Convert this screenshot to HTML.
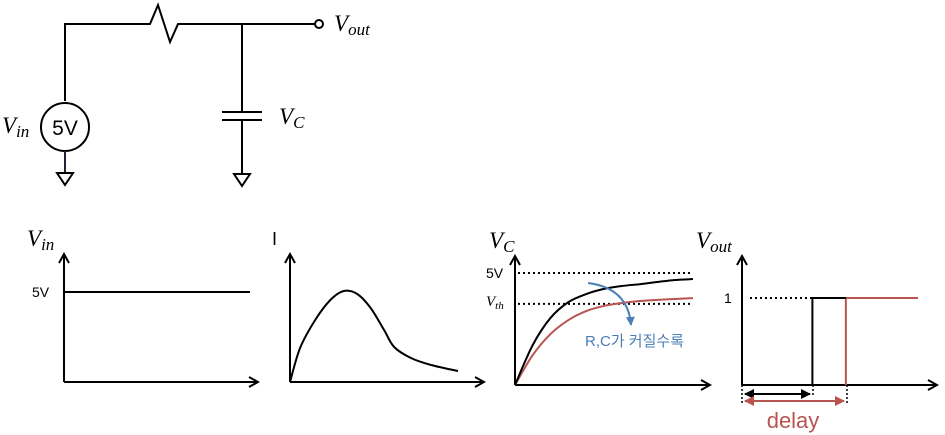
<!DOCTYPE html>
<html><head><meta charset="utf-8"><style>
html,body{margin:0;padding:0;background:#fff;}
svg{display:block;}
.m{font-family:"Liberation Serif",serif;font-style:italic;}
.s{font-family:"Liberation Sans","Noto Sans CJK KR",sans-serif;}
</style></head><body>
<svg id="root" width="945" height="435" viewBox="0 0 945 435">
<defs>
<marker id="ah" viewBox="0 0 12 12" refX="10" refY="6" markerWidth="12" markerHeight="12" markerUnits="userSpaceOnUse" orient="auto"><path d="M1,1 L10,6 L1,11" fill="none" stroke="#000" stroke-width="2"/></marker>
<marker id="bh" viewBox="0 0 10 10" refX="9" refY="5" markerWidth="10" markerHeight="10" markerUnits="userSpaceOnUse" orient="auto-start-reverse"><path d="M0,0 L10,5 L0,10z" fill="#000"/></marker>
<marker id="rh" viewBox="0 0 10 10" refX="9" refY="5" markerWidth="10" markerHeight="10" markerUnits="userSpaceOnUse" orient="auto-start-reverse"><path d="M0,0 L10,5 L0,10z" fill="#b85450"/></marker>
<marker id="uh" viewBox="0 0 10 10" refX="9" refY="5" markerWidth="9" markerHeight="9" markerUnits="userSpaceOnUse" orient="auto"><path d="M0,0 L10,5 L0,10z" fill="#4a7fb5"/></marker>
</defs>
<g fill="none" stroke="#000" stroke-width="2">
<path d="M65,101 V24 H150 L158,5 L170,42 L178,24 H315"/>
<circle cx="319" cy="24" r="4"/>
<circle cx="65" cy="127" r="24"/>
<path d="M65,151 V172" stroke="#223"/>
<path d="M57,173 H73 L65,185Z"/>
<path d="M242,24 V112"/>
<path d="M222,112 H262 M222,120 H262"/>
<path d="M242,120 V173"/>
<path d="M234,174 H250 L242,186Z"/>
</g>
<text class="s" x="65" y="135" font-size="21" text-anchor="middle">5V</text>
<text class="m" x="2" y="133" font-size="23">V<tspan font-size="17" dy="4">in</tspan></text>
<text class="m" x="334" y="31" font-size="23">V<tspan font-size="17" dy="4">out</tspan></text>
<text class="m" x="279" y="124" font-size="23">V<tspan font-size="17" dy="4">C</tspan></text>

<g fill="none" stroke="#000" stroke-width="2">
<path d="M64,382 V254" marker-end="url(#ah)"/>
<path d="M64,382 H258" marker-end="url(#ah)"/>
<path id="vinLine"/>
</g>
<text class="s" x="32" y="297" font-size="14">5V</text>
<text class="m" x="27" y="246" font-size="23">V<tspan font-size="17" dy="4">in</tspan></text>

<g fill="none" stroke="#000" stroke-width="2">
<path d="M290,382 V254" marker-end="url(#ah)"/>
<path d="M290,382 H484" marker-end="url(#ah)"/>
<path id="iCurve"/>
</g>
<text class="s" x="272" y="245" font-size="18">I</text>

<g fill="none" stroke="#000" stroke-width="2">
<path d="M515,385 V256" marker-end="url(#ah)"/>
<path d="M515,385 H710" marker-end="url(#ah)"/>
<path id="vc5" stroke-dasharray="2,3"/>
<path id="vcth" stroke-dasharray="2,3"/>
<path id="vcRed" stroke="#b85450"/>
<path id="vcBlack"/>
<path d="M588,283 Q628,288 631,325" stroke="#4a7fb5" marker-end="url(#uh)"/>
</g>
<text class="s" x="486" y="278" font-size="14">5V</text>
<text class="m" x="486" y="306" font-size="15">V<tspan font-size="11" dy="3">th</tspan></text>
<text class="m" x="489" y="248" font-size="23">V<tspan font-size="17" dy="4">C</tspan></text>
<text class="s" x="585" y="346" font-size="15" fill="#4a7fb5">R,C가 커질수록</text>

<g fill="none" stroke="#000" stroke-width="2">
<path d="M742,385 V256" marker-end="url(#ah)"/>
<path d="M742,385 H937" marker-end="url(#ah)"/>
<path d="M750,298 H813" stroke-dasharray="2,3"/>
<path id="stepRed" stroke="#b85450"/>
<path id="stepBlack"/>
<path d="M742,385 V403 M813,385 V396 M847,385 V403" stroke-width="1.5" stroke-dasharray="2,2"/>
<path d="M745,394 H810" marker-start="url(#bh)" marker-end="url(#bh)"/>
<path d="M745,401 H844" stroke="#b85450" marker-start="url(#rh)" marker-end="url(#rh)"/>
</g>
<text class="s" x="724" y="303" font-size="14">1</text>
<text class="m" x="696" y="248" font-size="23">V<tspan font-size="17" dy="4">out</tspan></text>
<text class="s" x="793" y="428" font-size="22" text-anchor="middle" fill="#b85450">delay</text>
</svg>
<script>
const vinLevel = 5;
const iTimes = [0,0.06,0.15,0.24,0.32,0.40,0.48,0.56,0.62,0.72,0.84,1];
const iValues = [0,34,62,82,91,88,74,52,35,24,17,11];
const vcTimes = [0,1,2,3,4,5,6,7,8,9,10];
const vcSmallRC = [0,1.79,3.0,3.7,4.06,4.29,4.42,4.5,4.6,4.69,4.73];
const vcLargeRC = [0,1.34,2.28,2.9,3.3,3.53,3.66,3.75,3.8,3.84,3.88];
const vcRefs = [5, 3.62];
const switchTimes = [0.40, 0.59];
const voutHigh = 1;

function smooth(pts){let d='M'+pts[0][0]+','+pts[0][1];for(let i=0;i<pts.length-1;i++){const p0=pts[i-1]||pts[i],p1=pts[i],p2=pts[i+1],p3=pts[i+2]||p2;
d+=` C${p1[0]+(p2[0]-p0[0])/6},${p1[1]+(p2[1]-p0[1])/6} ${p2[0]-(p3[0]-p1[0])/6},${p2[1]-(p3[1]-p1[1])/6} ${p2[0]},${p2[1]}`;}return d;}

const vinY = v => 382 - v*18;
document.getElementById('vinLine').setAttribute('d', `M64,${vinY(vinLevel)} H250`);
const ix = t => 290 + t*168, iy = v => 382 - v;
document.getElementById('iCurve').setAttribute('d', smooth(iTimes.map((t,i)=>[ix(t),iy(iValues[i])])));
const vx = t => 515 + t*17.8, vy = v => 385 - v*22.4;
document.getElementById('vc5').setAttribute('d', `M518,${vy(vcRefs[0])} H693`);
document.getElementById('vcth').setAttribute('d', `M518,${vy(vcRefs[1])} H693`);
document.getElementById('vcBlack').setAttribute('d', smooth(vcTimes.map((t,i)=>[vx(t),vy(vcSmallRC[i])])));
document.getElementById('vcRed').setAttribute('d', smooth(vcTimes.map((t,i)=>[vx(t),vy(vcLargeRC[i])])));
const ox = t => 742 + t*176, oy = v => 385 - v*87;
document.getElementById('stepBlack').setAttribute('d', `M${ox(switchTimes[0])},385 V${oy(voutHigh)} H${ox(switchTimes[1])}`);
document.getElementById('stepRed').setAttribute('d', `M${ox(switchTimes[1])},385 V${oy(voutHigh)} H918`);
</script>
</body></html>
